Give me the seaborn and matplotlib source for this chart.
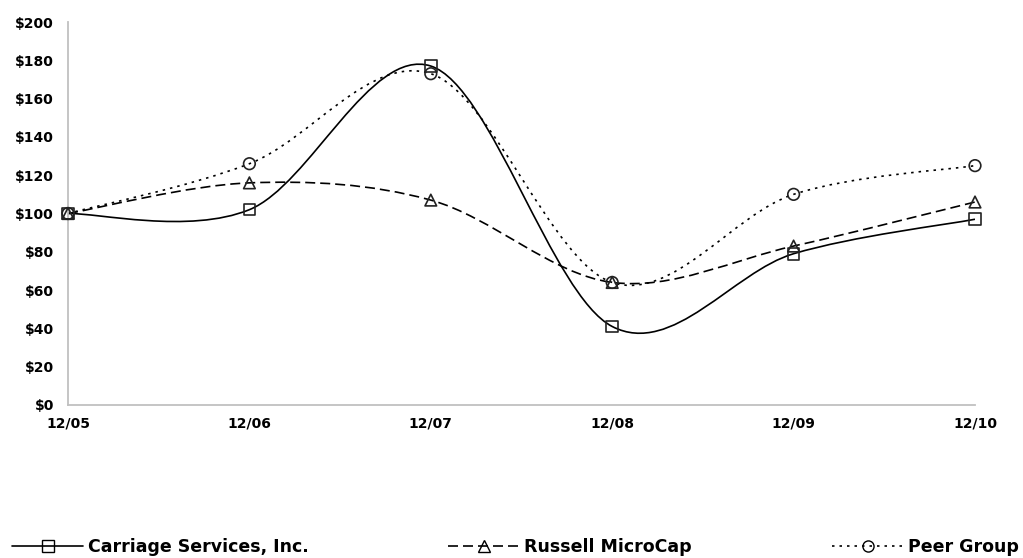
import numpy as np
import matplotlib
matplotlib.use("Agg")
import matplotlib.pyplot as plt
import seaborn as sns
from matplotlib.path import Path
from matplotlib.patches import PathPatch
from matplotlib.lines import Line2D

# dados
periods = ["12/05", "12/06", "12/07", "12/08", "12/09", "12/10"]
carriage = [100, 102, 177, 41, 79, 97]
russell = [100, 116, 107, 64, 83, 106]
peer = [100, 126, 173, 64, 110, 125]
yticks = list(range(0, 201, 20))

series_names = ["Carriage Services, Inc.", "Russell MicroCap", "Peer Group"]
series_vals = [carriage, russell, peer]
series_ls = ["-", (0, (6, 3)), (0, (1.5, 3))]
series_mk = ["s", "^", "o"]
legend_x = [12, 448, 832]  # inicio de cada item da legenda (px)


def smooth_path(xs, ys):
    """Curva suavizada estilo Excel (Bezier cubica, Catmull-Rom)"""
    pts = np.column_stack([xs, ys]).astype(float)
    n = len(pts)
    verts = [pts[0]]
    codes = [Path.MOVETO]
    for i in range(n - 1):
        p_prev = pts[i - 1] if i > 0 else pts[i]
        p_next2 = pts[i + 2] if i + 2 < n else pts[i + 1]
        c1 = pts[i] + (pts[i + 1] - p_prev) / 6
        c2 = pts[i + 1] - (p_next2 - pts[i]) / 6
        verts += [c1, c2, pts[i + 1]]
        codes += [Path.CURVE4] * 3
    return Path(verts, codes)


sns.set_style("white")
plt.rcParams['font.family'] = ['DejaVu Sans']

W, H = 1023, 558
fig = plt.figure(figsize=(W / 100, H / 100), dpi=100)
ax = fig.add_axes([68 / W, 1 - 405 / H, 907 / W, 383 / H])

x = np.arange(len(periods))
for name, vals, ls, mk in zip(series_names, series_vals, series_ls, series_mk):
    patch = PathPatch(smooth_path(x, vals), facecolor="none", edgecolor="black",
                      linewidth=1.2, linestyle=ls, zorder=2)
    ax.add_patch(patch)
    sns.scatterplot(x=x, y=vals, marker=mk, s=70, facecolor="none",
                    edgecolor="#222222", linewidth=1.2, ax=ax, zorder=3,
                    clip_on=False)

ax.set_xlim(0, len(periods) - 1)
ax.set_ylim(0, 200)
ax.set_xticks(x)
ax.set_xticklabels(periods)
ax.set_yticks(yticks)
ax.set_yticklabels([f"${v}" for v in yticks])
for lbl in ax.get_xticklabels() + ax.get_yticklabels():
    lbl.set_fontweight("bold")
    lbl.set_fontsize(10)
    lbl.set_color("black")

for side in ["top", "right"]:
    ax.spines[side].set_visible(False)
for side in ["left", "bottom"]:
    ax.spines[side].set_color("#c0c0c0")
    ax.spines[side].set_linewidth(1.3)
ax.tick_params(axis="y", direction="out", length=5, width=1.2, color="#c0c0c0", pad=5)
ax.tick_params(axis="x", direction="in", length=5, width=1.2, color="#c0c0c0", pad=8)
ax.set_xlabel("")
ax.set_ylabel("")

# legenda em baixo, um item de cada vez
for name, ls, mk, lx in zip(series_names, series_ls, series_mk, legend_x):
    h = Line2D([0], [0], color="black", linestyle=ls, linewidth=1.2, marker=mk,
               markersize=8, markerfacecolor="none", markeredgecolor="black")
    leg = fig.legend([h], [name], loc="center left", bbox_to_anchor=(lx / W, 1 - 547 / H),
                     frameon=False, borderpad=0, borderaxespad=0, handlelength=4.1,
                     handletextpad=0.3, labelcolor="black",
                     prop={"weight": "bold", "size": 12.5})

fig.savefig("out.png", dpi=100)
